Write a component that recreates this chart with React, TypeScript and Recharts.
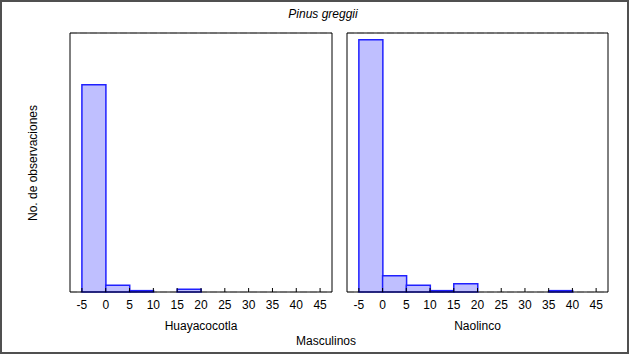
import { BarChart, Bar, XAxis, YAxis, CartesianGrid } from 'recharts'

// histogram bins of width 5, centred between the tick marks
const binCenters = [-2.5, 2.5, 7.5, 12.5, 17.5, 22.5, 27.5, 32.5, 37.5, 42.5]
const huayacocotla = [152, 5, 1, 0, 2, 0, 0, 0, 0, 0]
const naolinco = [185, 12, 5, 1, 6, 0, 0, 0, 1, 0]
const xTicks = [-5, 0, 5, 10, 15, 20, 25, 30, 35, 40, 45]
const yTicks = [0, 10, 20, 30, 40, 50, 60, 70, 80, 90, 100, 110, 120, 130, 140, 150, 160, 170, 180, 190]

const FONT = '"Liberation Sans", Arial, sans-serif'
const X_DOMAIN: [number, number] = [-7.5, 47.5]
const Y_DOMAIN: [number, number] = [0, 190]

type PanelProps = {
  values: number[]
  label: string
  width: number
  margin: { top: number; right: number; bottom: number; left: number }
}

function Panel({ values, label, width, margin }: PanelProps) {
  const data = binCenters.map((x, i) => ({ x, n: values[i] }))
  return (
    <BarChart
      width={width}
      height={355}
      data={data}
      margin={margin}
      barCategoryGap={0}
      barGap={0}
    >
      <CartesianGrid vertical={false} stroke="#c8c8c8" strokeDasharray="7 3" />
      <XAxis
        dataKey="x"
        type="number"
        domain={X_DOMAIN}
        ticks={xTicks}
        allowDataOverflow
        interval={0}
        height={30}
        tickSize={-4}
        tickMargin={12}
        stroke="#000"
        tick={{ fontSize: 12, fill: '#000', fontFamily: FONT }}
        label={{
          value: label,
          position: 'insideBottom',
          offset: -8,
          style: { fontSize: 12, fill: '#000', fontFamily: FONT },
        }}
      />
      <XAxis
        xAxisId="top"
        dataKey="x"
        type="number"
        orientation="top"
        domain={X_DOMAIN}
        ticks={xTicks}
        allowDataOverflow
        interval={0}
        height={1}
        tickSize={-4}
        tick={false}
        stroke="#000"
      />
      <YAxis
        type="number"
        domain={Y_DOMAIN}
        ticks={yTicks}
        interval={0}
        width={1}
        tickSize={-4}
        tick={false}
        stroke="#000"
      />
      <YAxis
        yAxisId="right"
        orientation="right"
        type="number"
        domain={Y_DOMAIN}
        ticks={yTicks}
        interval={0}
        width={1}
        tickSize={-4}
        tick={false}
        stroke="#000"
      />
      <Bar
        dataKey="n"
        fill="#bfbfff"
        stroke="#2020ff"
        strokeWidth={1.5}
        isAnimationActive={false}
      />
    </BarChart>
  )
}

// y tick labels for the left panel, drawn by their own axis on the same scale
function YLabels() {
  const data = binCenters.map((x, i) => ({ x, n: huayacocotla[i] }))
  return (
    <BarChart width={72} height={355} data={data} margin={{ top: 33, right: 2, bottom: 63, left: 0 }}>
      <XAxis dataKey="x" type="number" domain={X_DOMAIN} hide />
      <YAxis
        type="number"
        domain={Y_DOMAIN}
        ticks={yTicks}
        interval={0}
        width={70}
        tickSize={0}
        tickMargin={7}
        axisLine={false}
        tickLine={false}
        tick={{ fontSize: 12, fill: '#000', fontFamily: FONT }}
      />
      <Bar dataKey="n" hide isAnimationActive={false} />
    </BarChart>
  )
}

export default function App() {
  return (
    <div
      style={{
        position: 'absolute',
        left: 0,
        top: 0,
        width: 630,
        height: 355,
        background: '#fff',
        fontFamily: FONT,
      }}
    >
      <div style={{ position: 'absolute', left: 0, top: 0 }}>
        <YLabels />
      </div>
      <div style={{ position: 'absolute', left: 63, top: 0 }}>
        <Panel
          values={huayacocotla}
          label="Huayacocotla"
          width={277}
          margin={{ top: 32, right: 7, bottom: 33, left: 6 }}
        />
      </div>
      <div style={{ position: 'absolute', left: 340, top: 0 }}>
        <Panel
          values={naolinco}
          label="Naolinco"
          width={290}
          margin={{ top: 32, right: 21, bottom: 33, left: 6 }}
        />
      </div>
      <svg
        width={630}
        height={355}
        style={{ position: 'absolute', left: 0, top: 0, pointerEvents: 'none' }}
      >
        <rect x={1} y={1} width={627} height={352} fill="none" stroke="#505050" strokeWidth={2} />
        <text x={323} y={18} textAnchor="middle" fontSize={12} fontStyle="italic" fontFamily={FONT}>
          Pinus greggii
        </text>
        <text
          x={37}
          y={163}
          textAnchor="middle"
          fontSize={12}
          fontFamily={FONT}
          transform="rotate(-90 37 163)"
        >
          No. de observaciones
        </text>
        <text x={326} y={345} textAnchor="middle" fontSize={12} fontFamily={FONT}>
          Masculinos
        </text>
      </svg>
    </div>
  )
}
